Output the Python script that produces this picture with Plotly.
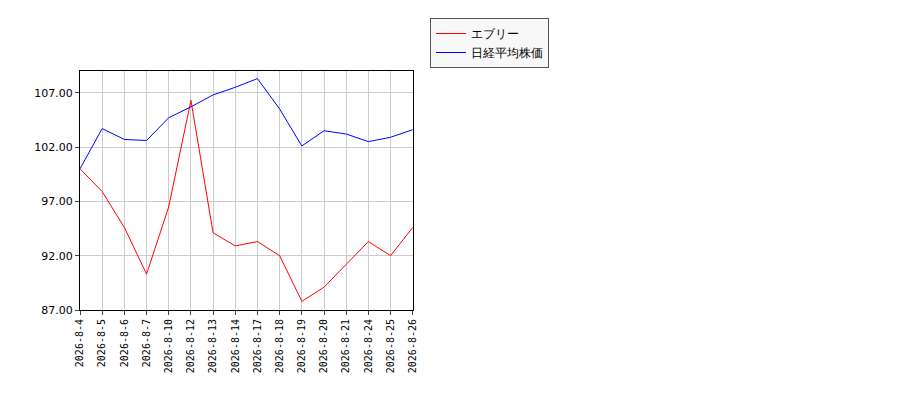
import plotly.graph_objects as go

dates = ["2026-8-4", "2026-8-5", "2026-8-6", "2026-8-7", "2026-8-10", "2026-8-12",
         "2026-8-13", "2026-8-14", "2026-8-17", "2026-8-18", "2026-8-19", "2026-8-20",
         "2026-8-21", "2026-8-24", "2026-8-25", "2026-8-26"]
every = [100.0, 97.9, 94.6, 90.3, 96.5, 106.3, 94.1, 92.9, 93.3, 92.0, 87.8, 89.1,
         91.2, 93.3, 92.0, 94.6]
nikkei = [100.0, 103.7, 102.7, 102.6, 104.7, 105.7, 106.8, 107.5, 108.3, 105.5, 102.1,
          103.5, 103.2, 102.5, 102.9, 103.6]
y_ticks = [87, 92, 97, 102, 107]

fig = go.Figure()
fig.add_trace(go.Scatter(x=dates, y=every, mode="lines", name="エブリー",
                         line=dict(color="red", width=1)))
fig.add_trace(go.Scatter(x=dates, y=nikkei, mode="lines", name="日経平均株価",
                         line=dict(color="blue", width=1)))

fig.update_layout(
    width=900, height=400,
    margin=dict(l=72, r=88, t=63, b=98),
    plot_bgcolor="white", paper_bgcolor="white",
    font=dict(family="DejaVu Sans", size=11, color="black"),
    legend=dict(x=0.535, y=0.975, xanchor="center", yanchor="top", yref="container",
                xref="container",
                bordercolor="#555", borderwidth=1, bgcolor="#f8f8f8", font=dict(size=12)),
    showlegend=True,
)
fig.update_xaxes(type="category", range=[0, len(dates) - 1], showgrid=True,
                 gridcolor="#ccc", tickangle=-90, ticks="outside", ticklen=4,
                 tickfont=dict(family="DejaVu Sans Mono", size=10),
                 showline=True, linecolor="black", mirror=True)
fig.update_yaxes(range=[87, 109], tickvals=y_ticks,
                 ticktext=[f"{v:.2f}" for v in y_ticks], showgrid=True,
                 gridcolor="#ccc", ticks="outside", ticklen=4,
                 showline=True, linecolor="black", mirror=True, zeroline=False)

fig.write_html("out.html")
